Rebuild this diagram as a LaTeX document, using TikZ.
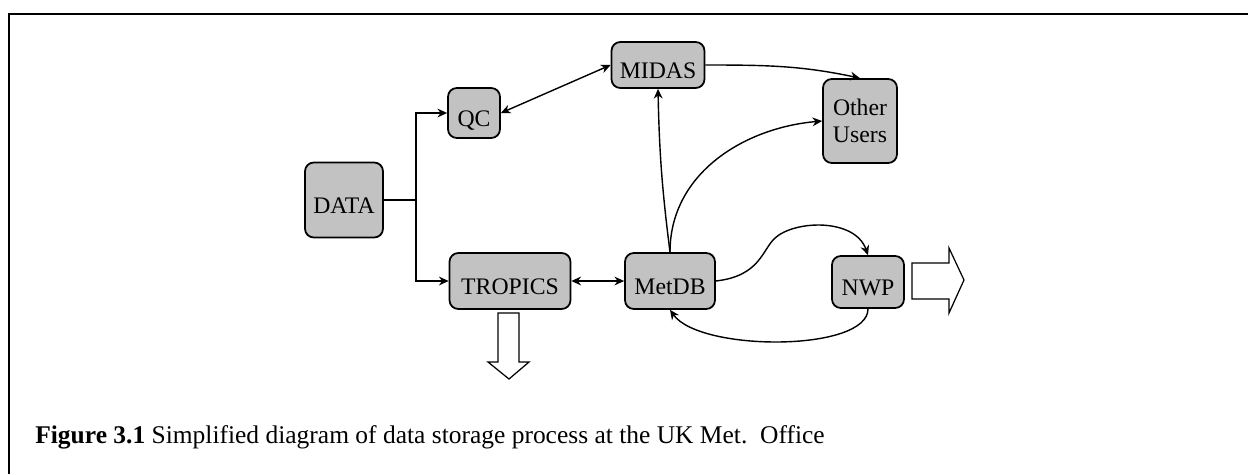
\documentclass[tikz,border=0pt]{standalone}
\usepackage{fontspec}
\setmainfont{Liberation Serif}
\usetikzlibrary{arrows.meta}

\tikzset{
  box/.style={draw, line width=1pt, rounded corners=5pt, fill=black!24,
    inner sep=0pt, font=\fontsize{13.5}{15.5}\selectfont,
    text height=15pt, text depth=0pt},
  flow/.style={line width=0.8pt, -{Stealth[length=5.5pt,width=5pt]}},
  both/.style={line width=0.8pt,
    {Stealth[length=5.5pt,width=5pt]}-{Stealth[length=5.5pt,width=5pt]}},
  fat/.style={draw, line width=0.7pt, fill=white}
}

\begin{document}
\begin{tikzpicture}[x=0.02cm, y=-0.02cm]
  \useasboundingbox (0,0) rectangle (1248,474);

  % Frame
  \draw[line width=1.3pt] (9,474) -- (9,14) -- (1248,14);

  % Stores and users
  \node[box, minimum width=1.56cm, minimum height=1.5cm] (data) at (344,200) {DATA};
  \node[box, minimum width=1.04cm, minimum height=1cm] (qc) at (474,113) {QC};
  \node[box, minimum width=1.86cm, minimum height=0.92cm] (midas) at (658,65) {MIDAS};
  \node[box, minimum width=1.48cm, minimum height=1.68cm, align=center,
    text height={}, text depth={}] (other) at (860,121) {Other\\Users};
  \node[box, minimum width=2.42cm, minimum height=1.12cm] (tropics) at (510,281) {TROPICS};
  \node[box, minimum width=1.8cm, minimum height=1.12cm] (metdb) at (670,281) {MetDB};
  \node[box, minimum width=1.44cm, minimum height=1.04cm] (nwp) at (868,282) {NWP};

  % Incoming data split
  \coordinate (split) at (416,200);
  \draw[line width=0.8pt] (data.east) -- (split);
  \draw[flow] (split) |- (qc.west);
  \draw[flow] (split) |- (tropics.west);

  % Links between stores
  \draw[both] (qc.east) -- (midas.west);
  \draw[both] (tropics.east) -- (metdb.west);
  \draw[flow] (midas.east) to[out=0, in=168] (other.north);
  \draw[flow] (metdb.north) to[bend left=3] (midas.south);
  \draw[flow] (metdb.north) to[out=90, in=185] (other.west);
  \draw[flow] (metdb.east) .. controls (760,276) and (762,250) .. (775,238)
    .. controls (795,220) and (855,218) .. (nwp.north);
  \draw[flow] (nwp.south) .. controls (868,352) and (700,352) .. (metdb.south);

  % Outputs
  \draw[fat] (912,263) -- (949,263) -- (949,248) -- (964,280) -- (949,313)
    -- (949,299) -- (912,299) -- cycle;
  \draw[fat] (498,313) -- (519,313) -- (519,362) -- (529,362) -- (509,379)
    -- (488,362) -- (498,362) -- cycle;

  % Caption
  \node[anchor=base west, inner sep=0pt, font=\fontsize{14.5}{17}\selectfont] (caption)
    at (35,443) {\textbf{Figure 3.1} Simplified diagram of data storage process at the UK Met.\ \ Office};
\end{tikzpicture}
\end{document}
